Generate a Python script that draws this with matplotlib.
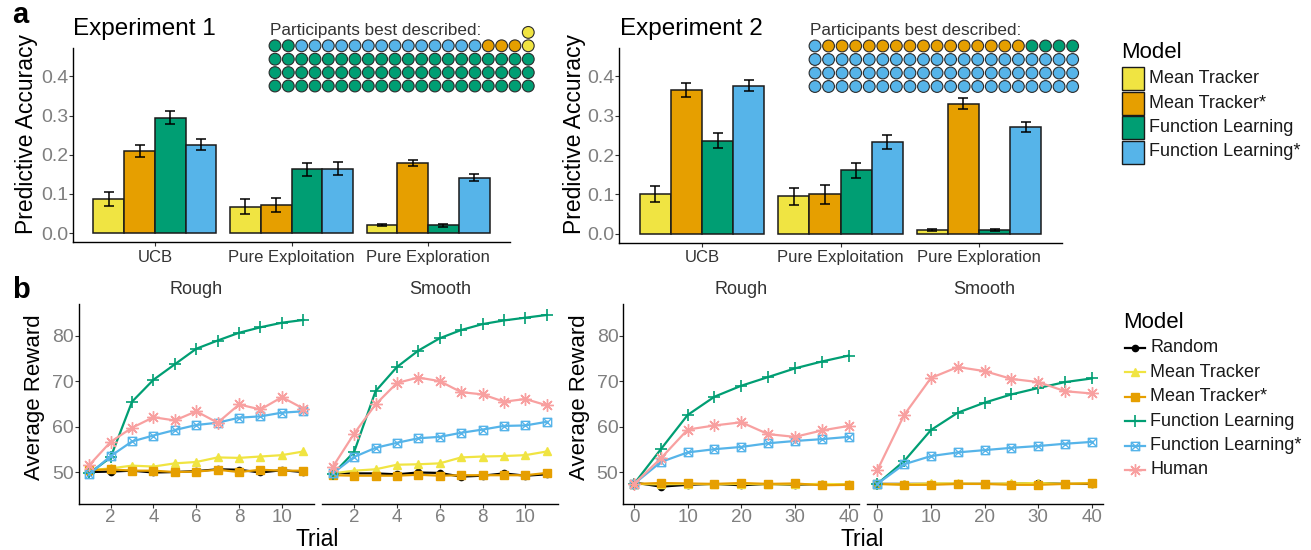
import numpy as np
import matplotlib
matplotlib.use("Agg")
import matplotlib.pyplot as plt
from matplotlib.patches import Rectangle
from matplotlib.lines import Line2D
from matplotlib.path import Path

plt.rcParams['font.family'] = ['Liberation Sans', 'DejaVu Sans']

W, H = 1311, 550
DPI = 100

# ------------------------------------------------------------------ data
bar_models = ["Mean Tracker", "Mean Tracker*", "Function Learning", "Function Learning*"]
strategies = ["UCB", "Pure Exploitation", "Pure Exploration"]

# predictive accuracy (rows = model, cols = strategy)
exp1_acc = [[0.087, 0.068, 0.021],
            [0.210, 0.071, 0.180],
            [0.295, 0.163, 0.020],
            [0.226, 0.165, 0.142]]
exp1_err = [[0.017, 0.018, 0.003],
            [0.015, 0.018, 0.008],
            [0.017, 0.017, 0.003],
            [0.015, 0.016, 0.009]]
exp2_acc = [[0.101, 0.095, 0.009],
            [0.366, 0.100, 0.331],
            [0.237, 0.161, 0.010],
            [0.376, 0.233, 0.271]]
exp2_err = [[0.021, 0.022, 0.002],
            [0.017, 0.024, 0.013],
            [0.018, 0.019, 0.002],
            [0.014, 0.017, 0.013]]

# participants best described (waffle), ordered by count
exp1_best_models = ["Function Learning", "Function Learning*", "Mean Tracker*", "Mean Tracker"]
exp1_best_counts = [62, 14, 3, 2]
exp2_best_models = ["Function Learning*", "Mean Tracker*", "Function Learning"]
exp2_best_counts = [61, 15, 4]

line_models = ["Random", "Mean Tracker", "Mean Tracker*", "Function Learning",
               "Function Learning*", "Human"]

trials_exp1 = [1, 2, 3, 4, 5, 6, 7, 8, 9, 10, 11]
exp1_rough = {
    "Random":             [50.1, 50.2, 50.4, 50.0, 50.1, 50.3, 50.7, 50.6, 50.0, 50.5, 50.1],
    "Mean Tracker":       [50.5, 50.9, 51.5, 51.3, 52.0, 52.3, 53.3, 53.2, 53.5, 53.8, 54.6],
    "Mean Tracker*":      [50.5, 50.7, 50.4, 50.4, 50.1, 50.2, 50.6, 50.1, 50.6, 50.4, 50.4],
    "Function Learning":  [49.8, 53.3, 65.5, 70.3, 73.7, 77.1, 78.9, 80.6, 81.8, 82.8, 83.4],
    "Function Learning*": [49.6, 53.6, 56.8, 58.1, 59.3, 60.4, 60.9, 62.0, 62.3, 63.1, 63.4],
    "Human":              [51.6, 56.7, 59.8, 62.1, 61.4, 63.4, 60.9, 64.9, 63.8, 66.5, 64.0],
}
exp1_smooth = {
    "Random":             [49.9, 49.8, 49.8, 49.6, 50.0, 49.9, 49.1, 49.3, 49.8, 49.3, 49.6],
    "Mean Tracker":       [49.8, 50.4, 50.7, 51.7, 51.8, 52.0, 53.3, 53.5, 53.6, 53.8, 54.6],
    "Mean Tracker*":      [49.4, 49.3, 49.3, 49.3, 49.5, 49.3, 49.4, 49.4, 49.4, 49.4, 49.9],
    "Function Learning":  [49.6, 54.5, 67.8, 73.1, 76.7, 79.4, 81.2, 82.5, 83.3, 83.9, 84.5],
    "Function Learning*": [49.8, 53.4, 55.4, 56.5, 57.5, 57.8, 58.7, 59.4, 60.2, 60.3, 61.1],
    "Human":              [51.2, 58.5, 64.9, 69.6, 70.8, 70.0, 67.6, 67.1, 65.5, 66.1, 64.7],
}
trials_exp2 = [0, 5, 10, 15, 20, 25, 30, 35, 40]
exp2_rough = {
    "Random":             [47.8, 46.9, 47.3, 47.5, 47.2, 47.5, 47.3, 47.5, 47.3],
    "Mean Tracker":       [47.5, 47.4, 47.5, 47.4, 47.5, 47.4, 47.4, 47.5, 47.4],
    "Mean Tracker*":      [47.5, 47.7, 47.6, 47.5, 47.7, 47.5, 47.6, 47.2, 47.3],
    "Function Learning":  [47.5, 55.1, 62.6, 66.6, 69.0, 70.9, 72.8, 74.3, 75.6],
    "Function Learning*": [47.5, 52.3, 54.4, 55.1, 55.6, 56.4, 56.9, 57.3, 57.8],
    "Human":              [47.5, 53.1, 59.4, 60.3, 61.0, 58.4, 57.8, 59.2, 60.2],
}
exp2_smooth = {
    "Random":             [47.5, 47.5, 47.5, 47.5, 47.5, 47.5, 47.7, 47.5, 47.5],
    "Mean Tracker":       [47.5, 47.4, 47.6, 47.6, 47.5, 47.6, 47.7, 47.5, 47.7],
    "Mean Tracker*":      [47.5, 47.3, 47.3, 47.5, 47.5, 47.3, 47.3, 47.5, 47.6],
    "Function Learning":  [47.5, 52.5, 59.3, 63.1, 65.3, 67.1, 68.5, 69.8, 70.6],
    "Function Learning*": [47.5, 51.8, 53.6, 54.4, 54.9, 55.4, 55.8, 56.3, 56.7],
    "Human":              [50.5, 62.6, 70.7, 73.1, 72.2, 70.5, 69.8, 67.8, 67.3],
}

# ------------------------------------------------------------------ styles
colors = {"Random": "#000000", "Mean Tracker": "#F0E442", "Mean Tracker*": "#E69F00",
          "Function Learning": "#009E73", "Function Learning*": "#56B4E9",
          "Human": "#F8A0A0"}

sqx = Path([(-1, -1), (1, -1), (1, 1), (-1, 1), (-1, -1),
            (-1, -1), (1, 1), (-1, 1), (1, -1)],
           [Path.MOVETO, Path.LINETO, Path.LINETO, Path.LINETO, Path.CLOSEPOLY,
            Path.MOVETO, Path.LINETO, Path.MOVETO, Path.LINETO])
mstyle = {
    "Random": dict(marker="o", ms=4.5),
    "Mean Tracker": dict(marker="^", ms=6),
    "Mean Tracker*": dict(marker="s", ms=6),
    "Function Learning": dict(marker="+", ms=9, mew=1.2),
    "Function Learning*": dict(marker=sqx, ms=6, mfc="none", mew=1.0),
    "Human": dict(marker=(8, 2, 0), ms=9, mew=1.0),
}

TICK_GRAY = "#7F7F7F"
DARK = "#333333"

fig = plt.figure(figsize=(W / DPI, H / DPI), dpi=DPI)


def rect(l, t, r, b):
    return [l / W, 1 - b / H, (r - l) / W, (b - t) / H]


over = fig.add_axes([0, 0, 1, 1], zorder=10)
over.set_xlim(0, W)
over.set_ylim(H, 0)
over.axis("off")
over.patch.set_alpha(0)


def style_axis(ax, left=True, xpad=0.4):
    for s in ["top", "right"]:
        ax.spines[s].set_visible(False)
    ax.spines["bottom"].set_linewidth(1.0)
    ax.spines["left"].set_linewidth(1.0)
    ax.tick_params(length=2.9, width=0.8, color=DARK)
    ax.tick_params(axis="y", pad=0.6)
    ax.tick_params(axis="x", pad=xpad)
    if not left:
        ax.spines["left"].set_visible(False)
        ax.tick_params(axis="y", left=False, labelleft=False)
    ax.patch.set_alpha(0)


# ------------------------------------------------------------------ panel a
def bar_panel(rect_px, acc, err, title, title_x, ylab_x):
    ax = fig.add_axes(rect(*rect_px))
    style_axis(ax, xpad=2.7)
    width = 0.225
    for m, name in enumerate(bar_models):
        xs = np.arange(len(strategies)) + (m - 1.5) * width
        ax.bar(xs, acc[m], width=width, color=colors[name], edgecolor="#1a1a1a",
               linewidth=1.1, zorder=2)
        ax.errorbar(xs, acc[m], yerr=err[m], fmt="none", ecolor="black",
                    elinewidth=1.1, capsize=3.6, capthick=1.1, zorder=3)
    ax.set_xlim(-0.6, 2.6)
    ax.set_ylim(-0.0225, 0.4725)
    ax.set_yticks([0, 0.1, 0.2, 0.3, 0.4])
    ax.set_yticklabels(["0.0", "0.1", "0.2", "0.3", "0.4"], fontsize=14, color=TICK_GRAY)
    ax.set_xticks(range(len(strategies)))
    ax.set_xticklabels(strategies, fontsize=12, color=DARK)
    fig.text(title_x / W, 1 - 35 / H, title, fontsize=17.5, ha="left", va="baseline")
    fig.text(ylab_x / W, 1 - 134 / H, "Predictive Accuracy", fontsize=16.5,
             rotation=90, ha="center", va="center")
    return ax


bar_panel((73, 48, 510, 242), exp1_acc, exp1_err, "Experiment 1", 73, 27)
bar_panel((619, 48, 1062, 242.5), exp2_acc, exp2_err, "Experiment 2", 620, 575)


def waffle(models_, counts, x0, dx, ybot, dy, text_x, ncol=20):
    seq = []
    for mname, c in zip(models_, counts):
        seq += [mname] * c
    n = len(seq)
    full = n // ncol
    rem = n % ncol
    xs, ys, cs = [], [], []
    for i, mname in enumerate(seq):
        if i < full * ncol:
            row, col = i // ncol, i % ncol
        else:
            row, col = full, ncol - rem + (i - full * ncol)
        xs.append(x0 + col * dx)
        ys.append(ybot - row * dy)
        cs.append(colors[mname])
    over.scatter(xs, ys, s=72, c=cs, edgecolors="#2b2b2b", linewidths=0.8, clip_on=False)
    over.text(text_x, 34.5, "Participants best described:", fontsize=12.3,
              color=DARK, ha="left", va="baseline")


waffle(exp1_best_models, exp1_best_counts, 275, 13.33, 86, 13.4, 270)
waffle(exp2_best_models, exp2_best_counts, 815, 13.56, 86.5, 13.5, 810)

# legend a
over.text(1121, 53, "Model", fontsize=16, ha="left", va="center")
for i, name in enumerate(bar_models):
    top = 67 + i * 24.5
    over.add_patch(Rectangle((1122, top), 22, 23, facecolor=colors[name],
                             edgecolor="#1a1a1a", linewidth=1.0))
    over.text(1149, top + 11.5, name, fontsize=13, ha="left", va="center", color="#1a1a1a")

# ------------------------------------------------------------------ panel b
def line_panel(rect_px, x, data, xlim, xticks, left, strip):
    ax = fig.add_axes(rect(*rect_px))
    style_axis(ax, left=left)
    for name in line_models:
        st = dict(mstyle[name])
        ax.plot(x, data[name], color=colors[name], lw=1.6, mec=colors[name],
                clip_on=False, **st)
    ax.set_xlim(*xlim)
    ax.set_ylim(43.1, 86.9)
    ax.set_xticks(xticks)
    ax.set_xticklabels([str(t) for t in xticks], fontsize=13.5, color=TICK_GRAY)
    if left:
        ax.set_yticks([50, 60, 70, 80])
        ax.set_yticklabels(["50", "60", "70", "80"], fontsize=14, color=TICK_GRAY)
    cx = (rect_px[0] + rect_px[2]) / 2
    fig.text(cx / W, 1 - 290 / H, strip, fontsize=13, color=DARK, ha="center", va="center")
    return ax


line_panel((78.5, 304, 314, 504), trials_exp1, exp1_rough, (0.5, 11.5), [2, 4, 6, 8, 10], True, "Rough")
line_panel((322, 304, 557.5, 504), trials_exp1, exp1_smooth, (0.5, 11.5), [2, 4, 6, 8, 10], False, "Smooth")
line_panel((623.3, 304, 859.3, 504), trials_exp2, exp2_rough, (-2, 42), [0, 10, 20, 30, 40], True, "Rough")
line_panel((866.6, 304, 1102.6, 504), trials_exp2, exp2_smooth, (-2, 42), [0, 10, 20, 30, 40], False, "Smooth")

for xc in (35, 579):
    fig.text(xc / W, 1 - 397 / H, "Average Reward", fontsize=16, rotation=90,
             ha="center", va="center")
for xc in (316.7, 862):
    fig.text(xc / W, 1 - 546 / H, "Trial", fontsize=16.5, ha="center", va="baseline")

# legend b
over.text(1123, 323, "Model", fontsize=16, ha="left", va="center")
for i, name in enumerate(line_models):
    yc = 348 + i * 24.4
    st = dict(mstyle[name])
    over.add_line(Line2D([1125, 1145], [yc, yc], color=colors[name], lw=1.6))
    over.add_line(Line2D([1135], [yc], color=colors[name], mec=colors[name], **st))
    over.text(1150, yc, name, fontsize=13, ha="left", va="center", color="#1a1a1a")

# panel letters
fig.text(12 / W, 1 - 23 / H, "a", fontsize=21, fontweight="bold", ha="left", va="baseline")
fig.text(12 / W, 1 - 297.5 / H, "b", fontsize=21, fontweight="bold", ha="left", va="baseline")

fig.savefig("out.png", dpi=DPI)
